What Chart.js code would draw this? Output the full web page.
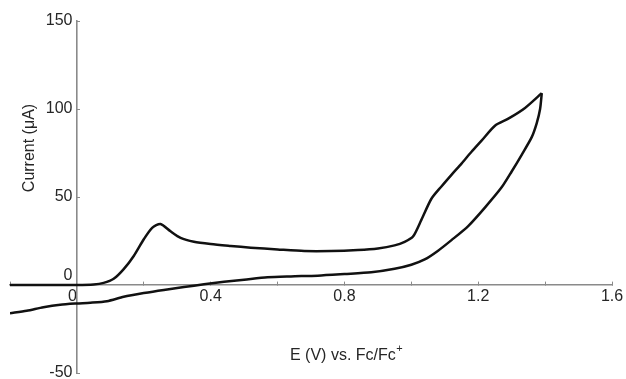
<!DOCTYPE html>
<html>
<head>
<meta charset="utf-8">
<script src="https://cdn.jsdelivr.net/npm/chart.js@4.4.1/dist/chart.umd.min.js"></script>
<style>
  html, body { margin: 0; padding: 0; background: #fff; overflow: hidden; }
  #wrap { width: 626px; height: 379px; position: relative; }
</style>
</head>
<body>
<div id="wrap"><canvas id="cv"></canvas></div>
<script>
// Cyclic voltammogram
// forward scan (-0.2 V -> 1.39 V)
const forwardPotential = [-0.20, -0.10, 0.00, 0.05, 0.08, 0.11, 0.14, 0.17, 0.20, 0.225, 0.25, 0.28, 0.31, 0.35, 0.40, 0.46, 0.52, 0.60, 0.68, 0.76, 0.84, 0.90, 0.95, 0.98, 1.005, 1.03, 1.06, 1.09, 1.12, 1.15, 1.18, 1.21, 1.25, 1.29, 1.34, 1.39];
const forwardCurrent   = [0, 0, 0, 0.3, 1.2, 3.5, 9, 16.5, 26, 32.5, 34.7, 30.5, 26.8, 24.6, 23.3, 22.2, 21.2, 20.2, 19.3, 19.3, 19.9, 20.8, 22.5, 24.5, 27.5, 37, 49, 56, 62.6, 69, 75.7, 82, 90.5, 94.5, 100.6, 109];
// reverse scan (1.39 V -> -0.2 V)
const reversePotential = [1.39, 1.385, 1.375, 1.36, 1.33, 1.30, 1.27, 1.22, 1.17, 1.12, 1.08, 1.04, 1.00, 0.95, 0.88, 0.80, 0.72, 0.64, 0.57, 0.50, 0.44, 0.38, 0.32, 0.26, 0.20, 0.14, 0.09, 0.04, 0.00, -0.05, -0.10, -0.15, -0.20];
const reverseCurrent   = [109, 100, 92, 84, 74, 64.5, 55.5, 44, 33.5, 25.5, 19.5, 14.5, 11.5, 9.2, 7.2, 6.2, 5.3, 4.9, 4.4, 3.0, 1.8, 0.4, -1.2, -2.8, -4.6, -6.7, -9.2, -10.1, -10.5, -11.2, -12.6, -14.6, -16];

// axis ranges and labelled ticks
const xRange = [-0.2, 1.6];
const yRange = [-50, 150];
const xLabelled = [0, 0.4, 0.8, 1.2, 1.6];
const yLabelled = [-50, 0, 50, 100, 150];

const axisColor = '#8a8a8a';
const textColor = '#262626';
const fontFamily = '"Liberation Sans", Arial, Helvetica, sans-serif';

function toPoints(xs, ys) {
    return xs.map((x, i) => ({ x: x, y: ys[i] }));
}

// draws the two axis titles (placed freely like the original figure)
const axisTitles = {
    id: 'axisTitles',
    afterDraw(chart) {
        const ctx = chart.ctx;
        ctx.save();
        ctx.fillStyle = textColor;
        ctx.font = '16px ' + fontFamily;
        ctx.textBaseline = 'middle';
        ctx.textAlign = 'left';
        const main = 'E (V) vs. Fc/Fc';
        ctx.fillText(main, 290, 356);
        const w = ctx.measureText(main).width;
        ctx.font = '11px ' + fontFamily;
        ctx.fillText('+', 290 + w + 0.5, 349);

        ctx.font = '16px ' + fontFamily;
        ctx.translate(30, 148);
        ctx.rotate(-Math.PI / 2);
        ctx.textAlign = 'center';
        ctx.fillText('Current (\u03bcA)', 0, 0);
        ctx.restore();
    }
};

function noPad(scale) {
    scale.paddingLeft = 0;
    scale.paddingRight = 0;
    scale.paddingTop = 0;
    scale.paddingBottom = 0;
}

const lineStyle = {
    borderColor: '#111',
    borderWidth: 2.5,
    pointRadius: 0,
    showLine: true,
    fill: false,
    tension: 0.25
};

new Chart(document.getElementById('cv'), {
    type: 'scatter',
    data: {
        datasets: [
            Object.assign({ label: 'forward', data: toPoints(forwardPotential, forwardCurrent) }, lineStyle),
            Object.assign({ label: 'reverse', data: toPoints(reversePotential, reverseCurrent) }, lineStyle)
        ]
    },
    options: {
        responsive: true,
        maintainAspectRatio: false,
        animation: false,
        layout: { padding: { left: 10, right: 14, top: 21, bottom: 6 } },
        plugins: {
            legend: { display: false },
            tooltip: { enabled: false }
        },
        scales: {
            x: {
                type: 'linear',
                min: xRange[0],
                max: xRange[1],
                position: { y: 0 },
                afterFit: noPad,
                border: { display: true, color: axisColor, width: 1.6 },
                grid: { display: true, drawOnChartArea: false, drawTicks: true, tickLength: -4, color: axisColor, tickColor: axisColor },
                ticks: {
                    stepSize: 0.2,
                    padding: 6,
                    color: textColor,
                    font: { size: 16, family: fontFamily },
                    maxRotation: 0,
                    autoSkip: false,
                    callback: function (v) {
                        const r = Math.round(v * 10) / 10;
                        if (!xLabelled.some(t => Math.abs(t - r) < 1e-6)) return '';
                        // the "0" sits a little left of the crossing, as in the original
                        return r === 0 ? '0  ' : String(r);
                    }
                }
            },
            y: {
                type: 'linear',
                min: yRange[0],
                max: yRange[1],
                position: { x: 0 },
                afterFit: noPad,
                border: { display: true, color: axisColor, width: 1.6 },
                grid: { display: true, drawOnChartArea: false, drawTicks: true, tickLength: -4, color: axisColor, tickColor: axisColor },
                ticks: {
                    stepSize: 50,
                    padding: 9,
                    color: textColor,
                    font: { size: 16, family: fontFamily },
                    autoSkip: false,
                    callback: function (v) {
                        if (yLabelled.indexOf(v) < 0) return '';
                        // trailing space keeps the label clear of the axis line;
                        // the "0" is lifted above the x axis like in the original
                        return v === 0 ? ['0 ', ''] : String(v) + ' ';
                    }
                }
            }
        }
    },
    plugins: [axisTitles]
});
</script>
</body>
</html>
